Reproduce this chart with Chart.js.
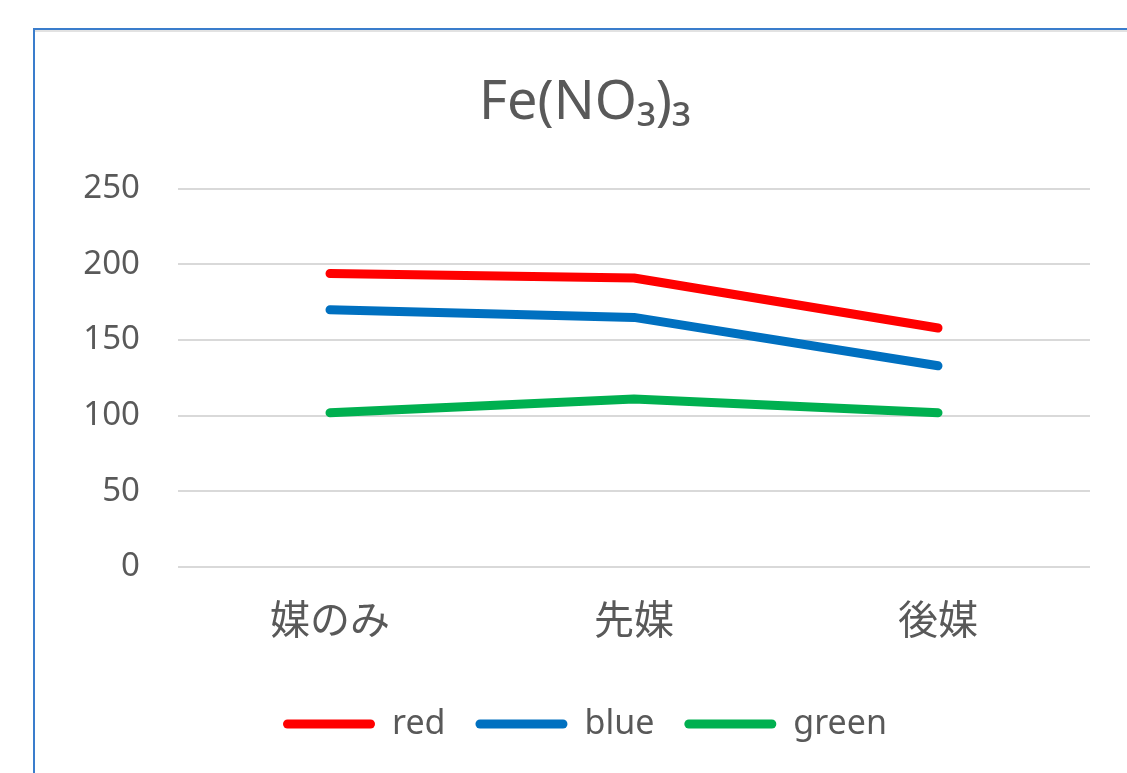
<!DOCTYPE html>
<html>
<head>
<meta charset="utf-8">
<script src="https://cdn.jsdelivr.net/npm/chart.js@4"></script>
<style>
  html, body { margin: 0; padding: 0; background: #fff; }
  body { width: 1127px; height: 773px; overflow: hidden; position: relative; }
  #frame {
    position: absolute; left: 33px; top: 28px; right: -10px; bottom: -10px;
    border-left: 2px solid #3a7dcc; border-top: 2px solid #3a7dcc;
    box-shadow: inset 0 2px 0 #e2e2e2;
  }
  #wrap { position: absolute; left: 0; top: 0; width: 1127px; height: 773px; }
</style>
</head>
<body>
<div id="frame"></div>
<div id="wrap"><canvas id="c" width="1127" height="773"></canvas></div>
<script>
// categories and series
const categories = ['媒のみ', '先媒', '後媒'];
const redValues = [194, 191, 158];
const blueValues = [170, 165, 133];
const greenValues = [102, 111, 102];
const seriesNames = ['red', 'blue', 'green'];
const seriesColors = ['#ff0000', '#0070c0', '#00b050'];
const yTicks = { min: 0, max: 250, step: 50 };
const chartTitle = 'Fe(NO₃)₃';

const textColor = '#595959';
const latin = '"Noto Sans", "Open Sans", sans-serif';
const cjk = '"Noto Sans CJK JP", "Noto Sans", sans-serif';

const seriesValues = [redValues, blueValues, greenValues];
const datasets = seriesNames.map((name, i) => ({
  label: name,
  data: seriesValues[i],
  borderColor: seriesColors[i],
  backgroundColor: seriesColors[i],
  borderWidth: 9,
  borderCapStyle: 'round',
  borderJoinStyle: 'round',
  pointRadius: 0,
  pointHoverRadius: 0,
  tension: 0,
  fill: false
}));

new Chart(document.getElementById('c'), {
  type: 'line',
  data: { labels: categories, datasets },
  options: {
    responsive: false,
    animation: false,
    events: [],
    layout: { padding: { left: 80, right: 37, top: 0, bottom: 22 } },
    plugins: {
      title: {
        display: true,
        text: chartTitle,
        color: textColor,
        font: { family: latin, size: 54, weight: 'normal' },
        padding: { top: 71, bottom: 53 }
      },
      legend: {
        display: true,
        position: 'bottom',
        labels: {
          color: textColor,
          font: { family: latin, size: 34 },
          boxWidth: 92,
          boxHeight: 9,
          useBorderRadius: true,
          borderRadius: 4.5,
          padding: 30,
          generateLabels(chart) {
            const items = Chart.defaults.plugins.legend.labels.generateLabels(chart);
            items.forEach(it => { it.lineWidth = 0; it.strokeStyle = 'rgba(0,0,0,0)'; });
            return items;
          }
        }
      },
      tooltip: { enabled: false }
    },
    scales: {
      x: {
        offset: true,
        grid: { display: false, drawTicks: false },
        border: { display: false },
        ticks: { color: textColor, font: { family: cjk, size: 40 }, padding: 28, maxRotation: 0 },
        afterFit(scale) { scale.height = 110; }
      },
      y: {
        min: yTicks.min,
        max: yTicks.max,
        grid: { color: '#d9d9d9', lineWidth: 2, drawTicks: false },
        border: { display: false },
        ticks: { stepSize: yTicks.step, color: textColor, font: { family: latin, size: 33 }, padding: 38 },
        afterFit(scale) { scale.width = 98; }
      }
    }
  }
});
</script>
</body>
</html>
